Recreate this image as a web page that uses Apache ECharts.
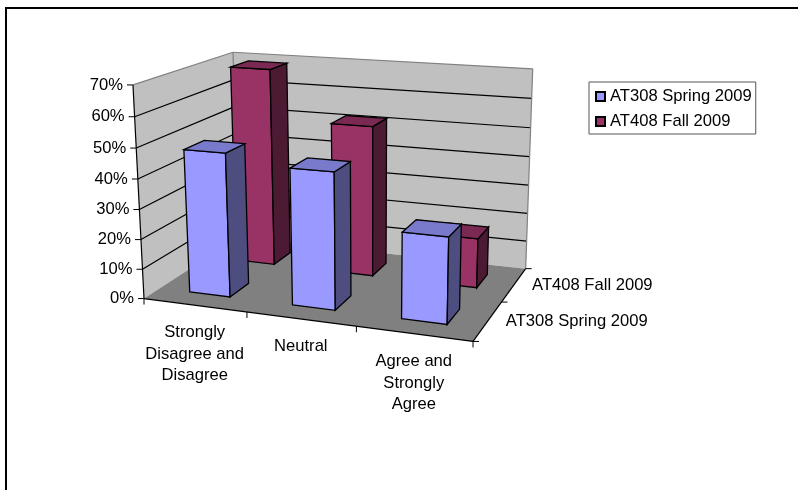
<!DOCTYPE html>
<html>
<head>
<meta charset="utf-8">
<style>html,body{margin:0;padding:0;background:#fff}#chart{width:798px;height:490px}</style>
<script src="https://cdn.jsdelivr.net/npm/echarts@6/dist/echarts.min.js"></script>
</head>
<body>
<div id="chart"></div>
<script>
// Survey responses by course offering
const categories = ['Strongly\nDisagree and\nDisagree', 'Neutral', 'Agree and\nStrongly\nAgree'];
const seriesNames = ['AT308 Spring 2009', 'AT408 Fall 2009'];
const at308Values = [48, 45, 28];
const at408Values = [69, 52, 17];
const valueTicks = [0, 10, 20, 30, 40, 50, 60, 70];

const FONT = '"Liberation Sans", Arial, sans-serif';
const FONT_SIZE = 16.6;

// Screen positions of the plot box corners, as [u, v, w, x, y]: fixes the perspective camera.
const boxCorners = [
  [0, 0, 0, 144, 298], [1, 0, 0, 473, 342],
  [0, 0, 1, 238.5, 238], [1, 0, 1, 525.7, 268],
  [0, 1, 0, 133, 85], [0, 1, 1, 233, 52], [1, 1, 1, 532.7, 69]
];

function solve(M, b) {
  const n = b.length, A = M.map((r, i) => r.concat(b[i]));
  for (let i = 0; i < n; i++) {
    let p = i;
    for (let k = i + 1; k < n; k++) if (Math.abs(A[k][i]) > Math.abs(A[p][i])) p = k;
    [A[i], A[p]] = [A[p], A[i]];
    for (let k = 0; k < n; k++) {
      if (k === i) continue;
      const f = A[k][i] / A[i][i];
      for (let j = i; j <= n; j++) A[k][j] -= f * A[i][j];
    }
  }
  return A.map((r, i) => r[n] / r[i]);
}

// Least-squares 3x4 camera with its last term fixed at 1.
const camera = (function () {
  const rows = [], rhs = [];
  boxCorners.forEach(([u, v, w, x, y]) => {
    rows.push([u, v, w, 1, 0, 0, 0, 0, -u * x, -v * x, -w * x]); rhs.push(x);
    rows.push([0, 0, 0, 0, u, v, w, 1, -u * y, -v * y, -w * y]); rhs.push(y);
  });
  const idx = rows[0].map((_, i) => i);
  const N = idx.map(i => idx.map(j => rows.reduce((s, r) => s + r[i] * r[j], 0)));
  const c = idx.map(i => rows.reduce((s, r, k) => s + r[i] * rhs[k], 0));
  return solve(N, c);
})();

function project(u, v, w) {
  const m = camera, d = m[8] * u + m[9] * v + m[10] * w + 1;
  return [(m[0] * u + m[1] * v + m[2] * w + m[3]) / d, (m[4] * u + m[5] * v + m[6] * w + m[7]) / d];
}

// Cartesian scales live on a hidden grid; readings are turned into box fractions from there.
const GRID = { left: 0, top: 0, width: 300, height: 300 };
const DEPTH_SLOTS = seriesNames.length;
const BAR_WIDTH_RATIO = 0.4;   // column width as a share of a category band
const BAR_DEPTH_RATIO = 0.4;   // column depth as a share of a series slot

function toBox(api, catIndex, value) {
  const p = api.coord([catIndex, value]);
  return { u: (p[0] - GRID.left) / GRID.width, v: (GRID.top + GRID.height - p[1]) / GRID.height };
}
const poly = (points, fill, stroke, lw) => ({
  type: 'polygon', shape: { points }, style: { fill, stroke: stroke || null, lineWidth: lw === undefined ? 1 : lw }
});
const seg = (a, b, stroke, lw) => ({
  type: 'line', shape: { x1: a[0], y1: a[1], x2: b[0], y2: b[1] }, style: { stroke, lineWidth: lw || 1 }
});
const label = (x, y, text, align, vAlign) => ({
  type: 'text', x, y, style: { text, fill: '#000', font: FONT_SIZE + 'px ' + FONT, align, verticalAlign: vAlign, lineHeight: 21.5 }
});

function barRenderer(slot, colors) {
  return function (params, api) {
    const cat = api.value(0), val = api.value(1);
    const halfU = api.size([1, 0])[0] / GRID.width * BAR_WIDTH_RATIO / 2;
    const base = toBox(api, cat, 0), top = toBox(api, cat, val);
    const slotW = 1 / DEPTH_SLOTS;
    const w0 = (slot + 0.5 - BAR_DEPTH_RATIO / 2) * slotW, w1 = (slot + 0.5 + BAR_DEPTH_RATIO / 2) * slotW;
    const u0 = base.u - halfU, u1 = base.u + halfU, v0 = base.v, v1 = top.v;
    const P = project;
    return {
      type: 'group', children: [
        poly([P(u0, v0, w0), P(u1, v0, w0), P(u1, v1, w0), P(u0, v1, w0)], colors.front, '#000', 1.3),
        poly([P(u1, v0, w0), P(u1, v0, w1), P(u1, v1, w1), P(u1, v1, w0)], colors.side, '#000', 1.3),
        poly([P(u0, v1, w0), P(u1, v1, w0), P(u1, v1, w1), P(u0, v1, w1)], colors.top, '#000', 1.3)
      ]
    };
  };
}

function renderBox(params, api) {
  const P = project, kids = [];
  const tv = t => toBox(api, 0, t).v;
  const vTop = tv(valueTicks[valueTicks.length - 1]);
  // walls and floor
  kids.push(poly([P(0, 0, 0), P(0, vTop, 0), P(0, vTop, 1), P(0, 0, 1)], '#C0C0C0'));
  kids.push(poly([P(0, 0, 1), P(0, vTop, 1), P(1, vTop, 1), P(1, 0, 1)], '#C0C0C0'));
  kids.push(poly([P(0, 0, 0), P(1, 0, 0), P(1, 0, 1), P(0, 0, 1)], '#808080'));
  // gridlines along both walls
  valueTicks.slice(1, -1).forEach(t => {
    const v = tv(t);
    kids.push(seg(P(0, v, 0), P(0, v, 1), '#000', 1.2), seg(P(0, v, 1), P(1, v, 1), '#000', 1.2));
  });
  // pale outline of the box
  kids.push(seg(P(0, vTop, 0), P(0, vTop, 1), '#808080', 1.2));
  kids.push(seg(P(0, vTop, 1), P(1, vTop, 1), '#808080', 1.2));
  kids.push(seg(P(0, vTop, 1), P(0, 0, 1), '#808080', 1.2));
  kids.push(seg(P(1, vTop, 1), P(1, 0, 1), '#808080', 1.2));
  // axis lines
  kids.push(seg(P(0, 0, 0), P(0, vTop, 0), '#000', 1.2));
  kids.push(seg(P(0, 0, 0), P(1, 0, 0), '#000', 1.2));
  kids.push(seg(P(1, 0, 0), P(1, 0, 1), '#000', 1.2));
  // value axis ticks and labels
  valueTicks.forEach(t => {
    const p = P(0, tv(t), 0);
    kids.push(seg([p[0] - 6, p[1]], p, '#000'));
    kids.push(label(p[0] - 10, p[1], t + '%', 'right', 'middle'));
  });
  // category ticks and labels
  categories.forEach((c, i) => {
    const p0 = P(i / categories.length, 0, 0);
    kids.push(seg(p0, [p0[0], p0[1] + 6], '#000'));
    const m = P(toBox(api, i, 0).u, 0, 0);
    kids.push(label(m[0], m[1] + 17, c, 'center', 'top'));
  });
  const pe = P(1, 0, 0);
  kids.push(seg(pe, [pe[0], pe[1] + 6], '#000'));
  // depth axis ticks and labels
  seriesNames.forEach((name, i) => {
    const p0 = P(1, 0, i / DEPTH_SLOTS);
    kids.push(seg(p0, [p0[0] + 6, p0[1]], '#000'));
    const m = P(1, 0, (i + 0.5) / DEPTH_SLOTS);
    kids.push(label(m[0] + 18, m[1] + 1, name, 'left', 'middle'));
  });
  const pb = P(1, 0, 1);
  kids.push(seg(pb, [pb[0] + 6, pb[1]], '#000'));
  return { type: 'group', children: kids };
}

const palette = [
  { front: '#9999FF', side: '#4D4D80', top: '#7A7ACC' },
  { front: '#993366', side: '#4D1A33', top: '#7A2952' }
];

const chart = echarts.init(document.getElementById('chart'));
chart.setOption({
  animation: false,
  backgroundColor: '#fff',
  grid: GRID,
  xAxis: { type: 'category', data: categories, show: false },
  yAxis: { type: 'value', min: 0, max: 70, interval: 10, show: false },
  legend: {
    data: seriesNames.map(name => ({ name, icon: 'rect' })),
    orient: 'vertical', left: 589, top: 82, padding: [6, 4, 4, 6], itemGap: 8,
    itemWidth: 9, itemHeight: 9, selectedMode: false,
    borderColor: '#555', borderWidth: 1,
    textStyle: { fontFamily: FONT, fontSize: FONT_SIZE, color: '#000' }
  },
  graphic: [{
    type: 'polyline', silent: true,
    shape: { points: [[6, 490], [6, 8], [798, 8]] },
    style: { fill: null, stroke: '#000', lineWidth: 2 }
  }],
  series: [
    { type: 'custom', name: 'box', silent: true, data: [[0]], renderItem: renderBox, encode: { x: -1, y: -1 } },
    {
      type: 'custom', name: seriesNames[1], z: 3, silent: true,
      itemStyle: { color: palette[1].front, borderColor: '#000', borderWidth: 1 },
      data: at408Values.map((v, i) => [i, v]), renderItem: barRenderer(1, palette[1])
    },
    {
      type: 'custom', name: seriesNames[0], z: 4, silent: true,
      itemStyle: { color: palette[0].front, borderColor: '#000', borderWidth: 1 },
      data: at308Values.map((v, i) => [i, v]), renderItem: barRenderer(0, palette[0])
    }
  ]
});
</script>
</body>
</html>
